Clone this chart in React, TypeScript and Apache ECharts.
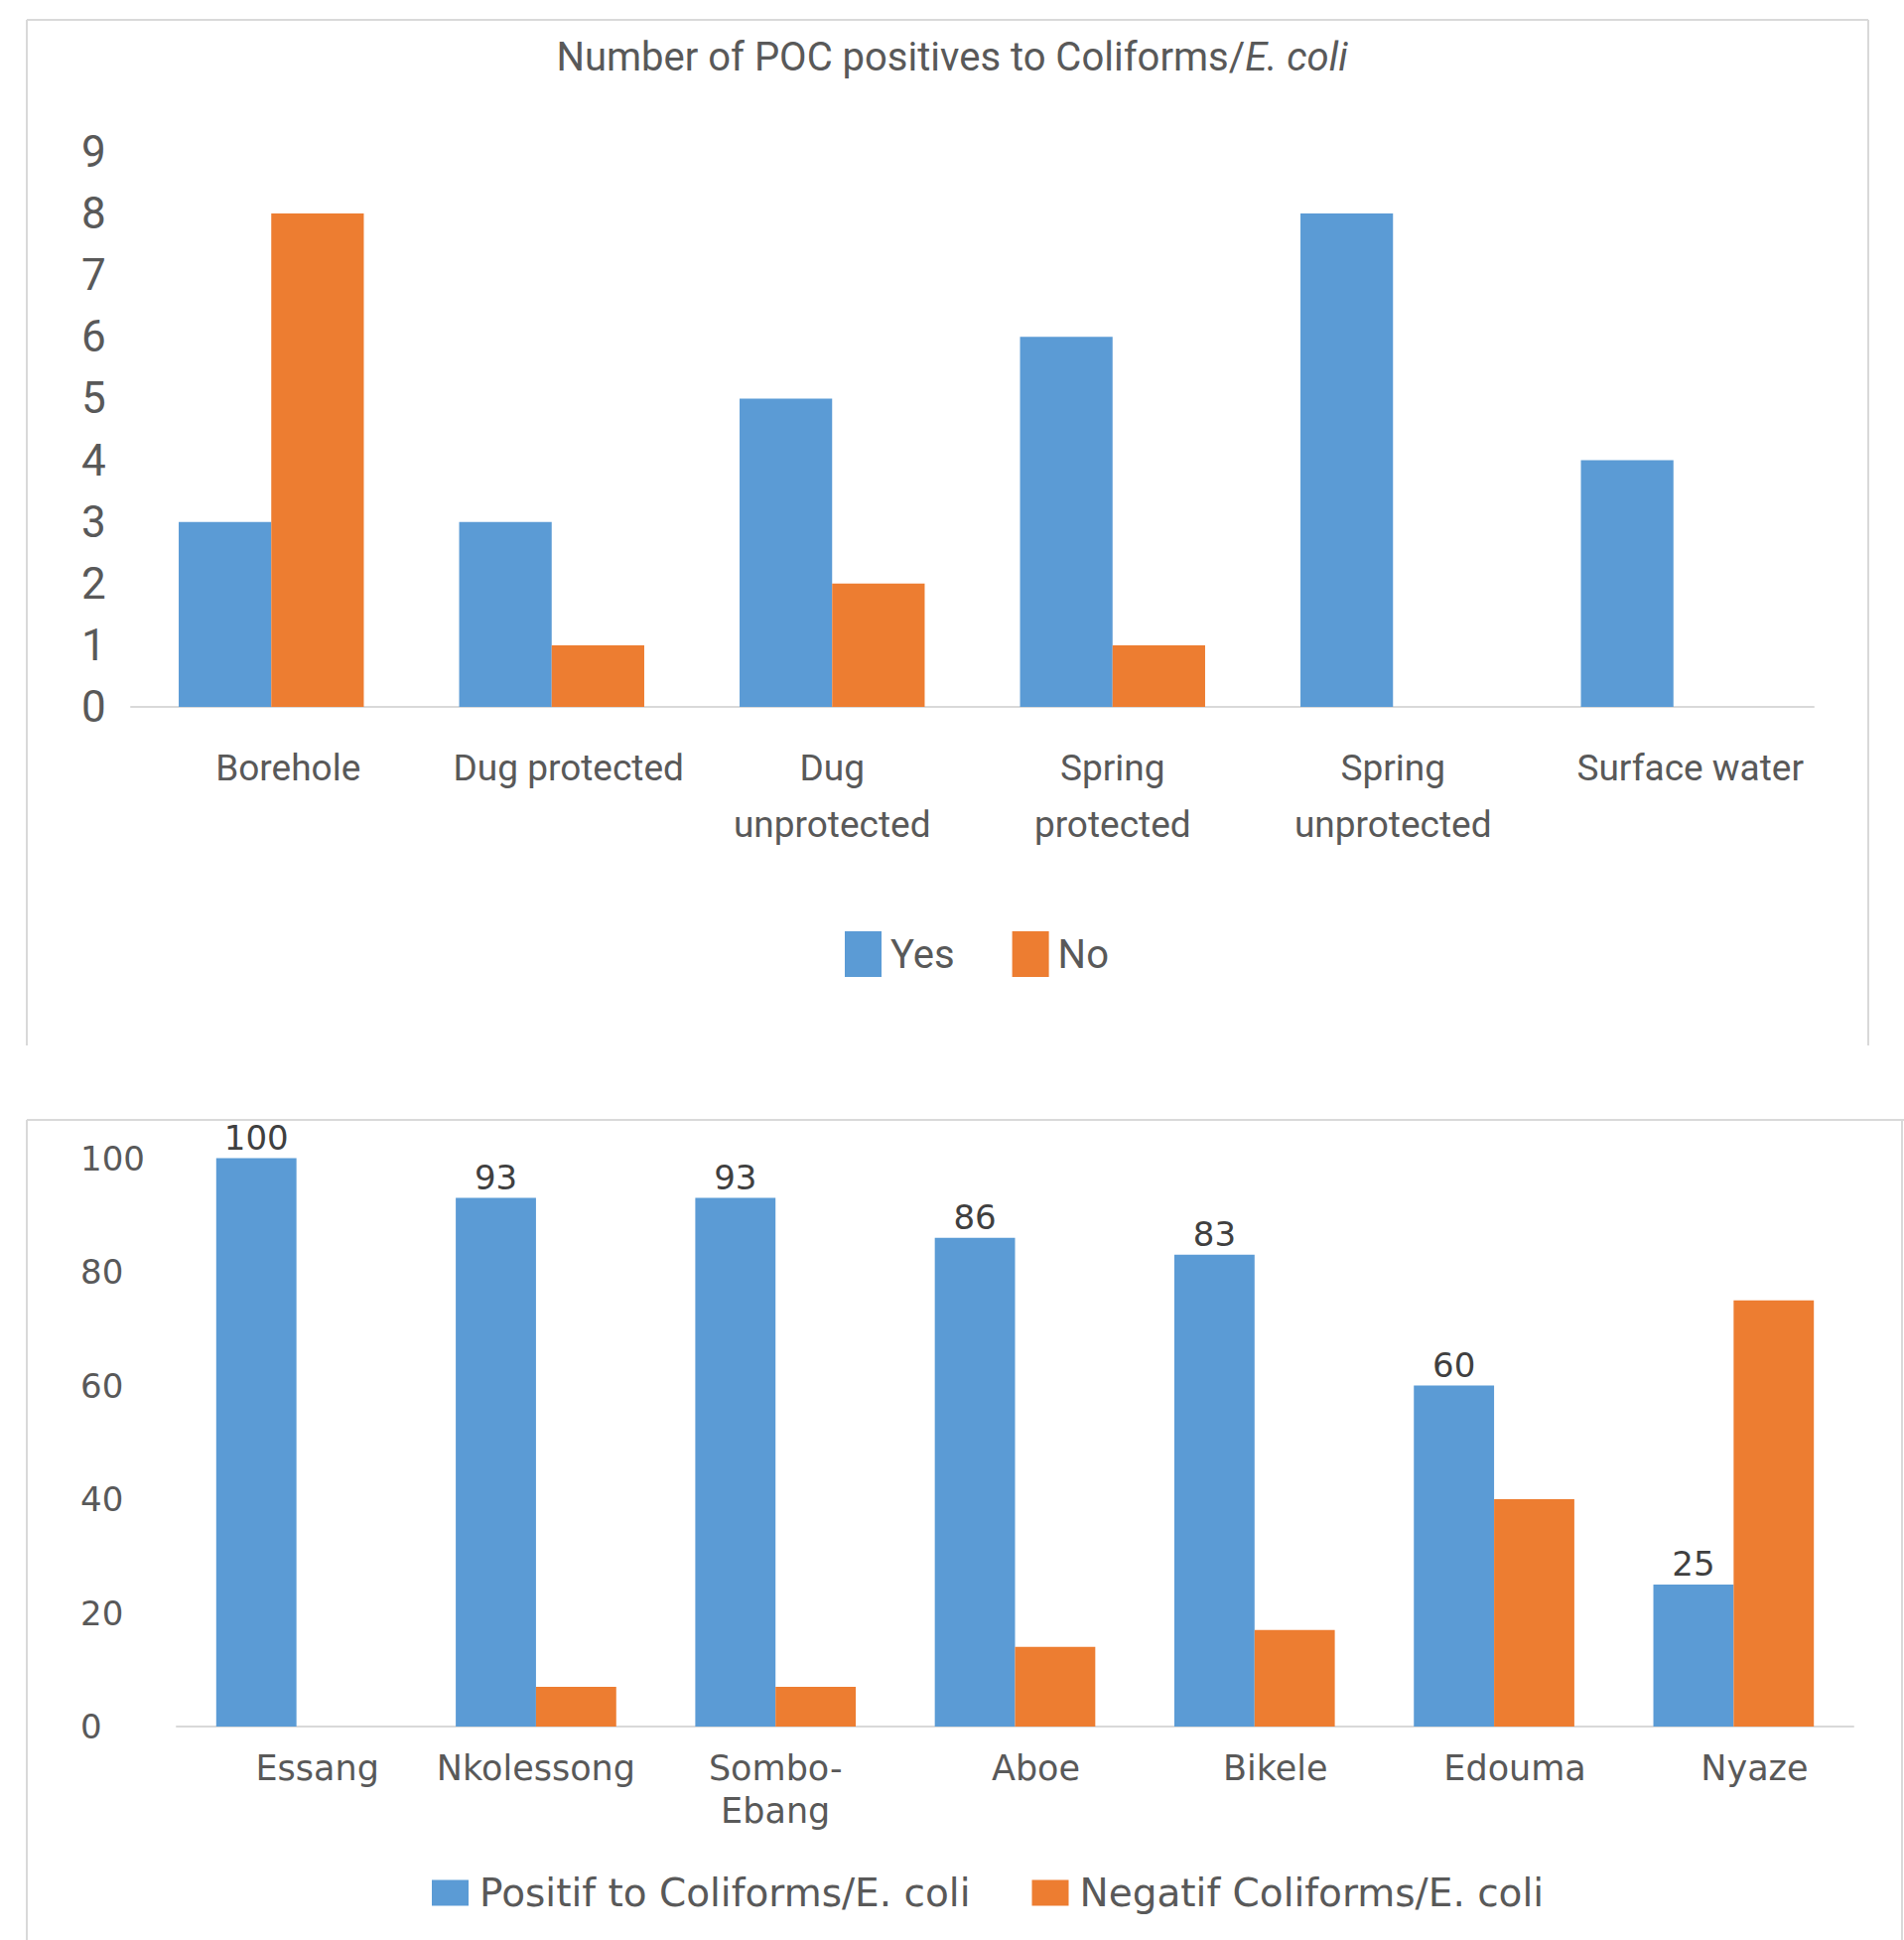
import React, { useEffect, useRef } from "react";
import * as echarts from "echarts";

// ---- Top chart data ----
const sourceCategories = ["Borehole", "Dug protected", "Dug\nunprotected", "Spring\nprotected", "Spring\nunprotected", "Surface water"];
const yesValues = [3, 3, 5, 6, 8, 4];
const noValues = [8, 1, 2, 1, 0, 0];
const topTitle = "Number of POC positives to Coliforms/";
const topTitleItalic = "E. coli";

// ---- Bottom chart data ----
const villageCategories = ["Essang", "Nkolessong", "Sombo-\nEbang", "Aboe", "Bikele", "Edouma", "Nyaze"];
const positifValues = [100, 93, 93, 86, 83, 60, 25];
const negatifValues = [0, 7, 7, 14, 17, 40, 75];

const BLUE = "#5B9BD5";
const ORANGE = "#ED7D31";
const TEXT = "#595959";
const AXIS = "#D9D9D9";
const NARROW = "Roboto, 'Liberation Sans', sans-serif";
const WIDE = "'DejaVu Sans', sans-serif";

export default function App() {
  const ref = useRef<HTMLDivElement>(null);
  useEffect(() => {
    if (!ref.current) return;
    const chart = echarts.init(ref.current, undefined, { renderer: "svg" });
    const option: any = {
      animation: false,
      backgroundColor: "#ffffff",
      title: {
        text: `{a|${topTitle}}{b|${topTitleItalic}}`,
        left: "center",
        top: 32,
        textStyle: {
          fontWeight: "normal",
          rich: {
            a: { fontFamily: NARROW, fontSize: 40, color: TEXT, fontWeight: "normal" },
            b: { fontFamily: NARROW, fontSize: 40, color: TEXT, fontStyle: "italic", fontWeight: "normal" },
          },
        },
      },
      graphic: [
        { type: "line", shape: { x1: 27, y1: 20, x2: 1882, y2: 20 }, style: { stroke: AXIS, lineWidth: 2 } },
        { type: "line", shape: { x1: 27, y1: 20, x2: 27, y2: 1053 }, style: { stroke: AXIS, lineWidth: 2 } },
        { type: "line", shape: { x1: 1882, y1: 20, x2: 1882, y2: 1053 }, style: { stroke: AXIS, lineWidth: 2 } },
        { type: "line", shape: { x1: 27, y1: 1128, x2: 1918, y2: 1128 }, style: { stroke: AXIS, lineWidth: 2 } },
        { type: "line", shape: { x1: 27, y1: 1128, x2: 27, y2: 1954 }, style: { stroke: AXIS, lineWidth: 2 } },
        { type: "line", shape: { x1: 1916, y1: 1128, x2: 1916, y2: 1954 }, style: { stroke: AXIS, lineWidth: 2 } },
      ],
      legend: [
        {
          data: ["Yes", "No"],
          left: 846,
          top: 933,
          itemWidth: 37,
          itemHeight: 46,
          itemGap: 58,
          icon: "rect",
          textStyle: { fontFamily: NARROW, fontSize: 40, color: TEXT, padding: [0, 0, 0, 4] },
        },
        {
          data: ["Positif to Coliforms/E. coli", "Negatif Coliforms/E. coli"],
          left: 430,
          top: 1882,
          itemWidth: 37,
          itemHeight: 26,
          itemGap: 62,
          icon: "rect",
          textStyle: { fontFamily: WIDE, fontSize: 39, color: TEXT, padding: [0, 0, 0, 6] },
        },
      ],
      grid: [
        { left: 132, right: 91, top: 153, height: 559 },
        { left: 178, right: 51, top: 1166.5, height: 572.5 },
      ],
      xAxis: [
        {
          type: "category",
          gridIndex: 0,
          data: sourceCategories,
          axisTick: { show: false },
          axisLine: { lineStyle: { color: AXIS, width: 2 } },
          axisLabel: {
            interval: 0,
            margin: 33,
            fontFamily: NARROW,
            fontSize: 37,
            lineHeight: 57,
            color: TEXT,
            formatter: (v: string) => (v.includes("\n") ? v : `{s|${v}}`),
            rich: { s: { fontFamily: NARROW, fontSize: 37, lineHeight: 57, color: TEXT, padding: [0, 0, 0, 34] } },
          },
        },
        {
          type: "category",
          gridIndex: 1,
          data: villageCategories,
          axisTick: { show: false },
          axisLine: { lineStyle: { color: AXIS, width: 2 } },
          axisLabel: {
            interval: 0,
            margin: 20,
            fontFamily: WIDE,
            fontSize: 35,
            lineHeight: 43,
            color: TEXT,
            formatter: (v: string, i: number) => (v.includes("\n") || i === 1 ? v : `{s|${v}}`),
            rich: { s: { fontFamily: WIDE, fontSize: 35, lineHeight: 43, color: TEXT, padding: [0, 0, 0, 42] } },
          },
        },
      ],
      yAxis: [
        {
          type: "value",
          gridIndex: 0,
          min: 0,
          max: 9,
          interval: 1,
          splitLine: { show: false },
          axisLine: { show: false },
          axisLabel: { align: "left", margin: 50, fontFamily: NARROW, fontSize: 44, color: TEXT },
        },
        {
          type: "value",
          gridIndex: 1,
          min: 0,
          max: 100,
          interval: 20,
          splitLine: { show: false },
          axisLine: { show: false },
          axisLabel: { align: "left", margin: 97, fontFamily: WIDE, fontSize: 34, color: TEXT },
        },
      ],
      series: [
        { name: "Yes", type: "bar", xAxisIndex: 0, yAxisIndex: 0, data: yesValues, itemStyle: { color: BLUE }, barGap: "0%", barCategoryGap: "34%" },
        { name: "No", type: "bar", xAxisIndex: 0, yAxisIndex: 0, data: noValues, itemStyle: { color: ORANGE }, barGap: "0%", barCategoryGap: "34%" },
        {
          name: "Positif to Coliforms/E. coli",
          type: "bar",
          xAxisIndex: 1,
          yAxisIndex: 1,
          data: positifValues,
          itemStyle: { color: BLUE },
          barGap: "0%",
          barCategoryGap: "33%",
          label: { show: true, position: "top", distance: 4, fontFamily: WIDE, fontSize: 34, color: "#404040" },
        },
        { name: "Negatif Coliforms/E. coli", type: "bar", xAxisIndex: 1, yAxisIndex: 1, data: negatifValues, itemStyle: { color: ORANGE }, barGap: "0%", barCategoryGap: "33%" },
      ],
    };
    chart.setOption(option);
    return () => chart.dispose();
  }, []);
  return <div ref={ref} style={{ position: "absolute", left: 0, top: 0, width: 1918, height: 1954 }} />;
}
